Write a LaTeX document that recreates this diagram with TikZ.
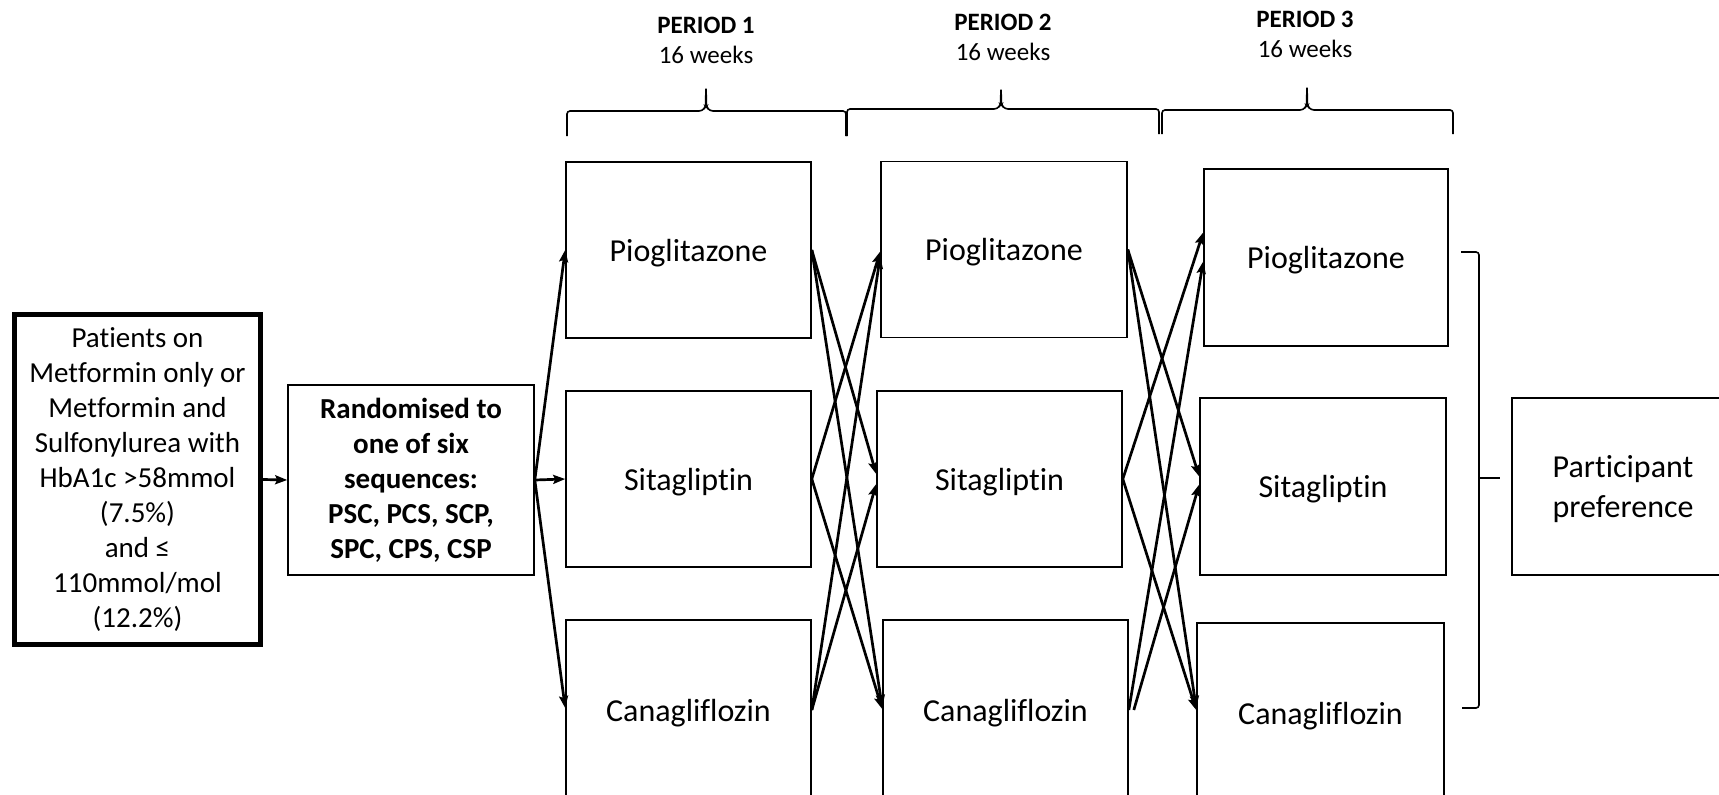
\documentclass[tikz,border=0pt]{standalone}
\usepackage{fontspec}
\setmainfont{Carlito}[Ligatures=NoCommon]
\usetikzlibrary{arrows.meta}
\begin{document}
\begin{tikzpicture}[x=1pt,y=-1pt,
  drugbox/.style={draw, line width=1.6pt, inner sep=0pt, text depth=0pt, minimum width=245pt, minimum height=176pt, font=\fontsize{32}{39}\selectfont},
  infobox/.style={draw, line width=1.6pt, inner sep=0pt, align=center, font=\fontsize{29}{35}\selectfont},
  conn/.style={line width=2.7pt, -{Stealth[length=12pt,width=9pt,inset=2pt]}},
  bracel/.style={line width=1.6pt, rounded corners=3pt},
  toplabel/.style={inner sep=0pt, font=\fontsize{25}{30}\selectfont}]
\useasboundingbox (0,0) rectangle (1719,795);
\fill[white] (0,0) rectangle (1719,795);
\clip (0,0) rectangle (1719,795);

% left boxes
\node[infobox, line width=5pt, minimum width=246pt, minimum height=330pt] (pat) at (137.5,479.5)
  {Patients on\\Metformin only or\\Metformin and\\Sulfonylurea with\\HbA1c >58mmol\\(7.5\%)\\and ≤\\110mmol/mol\\(12.2\%)};
\node[infobox, font=\fontsize{29}{35}\selectfont\bfseries, minimum width=246pt, minimum height=190pt] (rand) at (411,480)
  {Randomised to\\one of six\\sequences:\\PSC, PCS, SCP,\\SPC, CPS, CSP};

% column 1
\node[drugbox] (p1) at (688.5,250) {Pioglitazone};
\node[drugbox] (s1) at (688.5,479) {Sitagliptin};
\node[drugbox, minimum height=180pt] (c1) at (688.5,710) {Canagliflozin};
% column 2
\node[drugbox, minimum width=246pt] (p2) at (1004,249.5) {Pioglitazone};
\node[drugbox] (s2) at (999.5,479) {Sitagliptin};
\node[drugbox, minimum height=180pt] (c2) at (1005.5,710) {Canagliflozin};
% column 3
\node[drugbox, minimum width=244pt, minimum height=177pt] (p3) at (1326,257.5) {Pioglitazone};
\node[drugbox, minimum width=246pt, minimum height=177pt] (s3) at (1323,486.5) {Sitagliptin};
\node[drugbox, minimum width=247pt, minimum height=180pt] (c3) at (1320.5,713) {Canagliflozin};
% outcome
\node[drugbox, minimum width=222pt, minimum height=177pt, align=center, font=\fontsize{32}{40}\selectfont] (pp) at (1623,486.5) {Participant\\preference};

% connectors
\draw[conn] (pat.east) -- (rand.west);
\draw[conn] (rand.east) -- (p1.west);
\draw[conn] (rand.east) -- (s1.west);
\draw[conn] (rand.east) -- ([yshift=2pt]c1.west);

\draw[conn] (p1.east) -- ([yshift=5pt]s2.west);
\draw[conn] (p1.east) -- ([yshift=3pt]c2.west);
\draw[conn] (s1.east) -- ([yshift=-2pt]p2.west);
\draw[conn] (s1.east) -- ([yshift=1pt]c2.west);
\draw[conn] (c1.east) -- ([yshift=-7pt]p2.west);
\draw[conn] (c1.east) -- ([yshift=-5pt]s2.west);

\draw[conn] (p2.east) -- ([yshift=10pt]s3.west);
\draw[conn] (p2.east) -- ([yshift=5pt]c3.west);
\draw[conn] (s2.east) -- ([yshift=25pt]p3.west);
\draw[conn] (s2.east) -- ([yshift=3pt]c3.west);
\draw[conn] (c2.east) -- ([yshift=-4pt]p3.west);
\draw[conn] ([xshift=5pt]c2.east) -- ([yshift=2pt]s3.west);

% top braces
\draw[bracel] (567,136) -- (567,111) -- (702,111) -- (705.5,107) -- (706,87) -- (706.5,107) -- (710,111) -- (846,111) -- (846,136);
\draw[bracel] (847,136) -- (847,109) -- (997,109) -- (1000.5,105) -- (1001,88) -- (1001.5,105) -- (1005,109) -- (1159,109) -- (1159,134);
\draw[bracel] (1162,134) -- (1162,110) -- (1303,110) -- (1306.5,106) -- (1307,86) -- (1307.5,106) -- (1311,110) -- (1453,110) -- (1453,134);

% right bracket
\coordinate (bt) at (1461,252);
\coordinate (bb) at (1462,708);
\draw[bracel] (bt) -- (1479,252) -- (1479,708) -- (bb);
\draw[line width=1.8pt] (1479,478) -- (1500,478);

% period labels
\node[toplabel, font=\fontsize{25}{30}\selectfont\bfseries] (t1) at (706,25) {PERIOD 1};
\node[toplabel] (w1) at (706,55) {16 weeks};
\node[toplabel, font=\fontsize{25}{30}\selectfont\bfseries] (t2) at (1003,22) {PERIOD 2};
\node[toplabel] (w2) at (1003,52) {16 weeks};
\node[toplabel, font=\fontsize{25}{30}\selectfont\bfseries] (t3) at (1305,19) {PERIOD 3};
\node[toplabel] (w3) at (1305,49) {16 weeks};
\end{tikzpicture}
\end{document}
